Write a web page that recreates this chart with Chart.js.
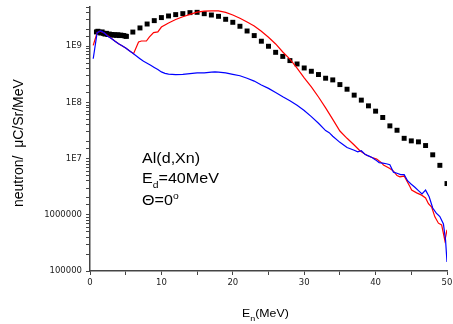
<!DOCTYPE html>
<html><head><meta charset="utf-8">
<script src="https://cdn.jsdelivr.net/npm/chart.js@4/dist/chart.umd.min.js"></script>
<style>html,body{margin:0;padding:0;background:#fff;}#wrap{width:453px;height:324px;position:relative;}</style>
</head><body><div id="wrap"><canvas id="c" width="453" height="324"></canvas></div>
<script>
// Experimental (black squares)
const expX = [0.9,1.1,1.3,1.5,1.7,1.9,2.1,2.3,2.5,2.7,2.9,3.1,3.3,3.5,3.7,3.9,4.1,4.3,4.5,4.7,4.9,5.1,
  6,7,8,9,10,11,12,13,14,15,16,17,18,19,20,21,22,23,24,25,26,27,28,29,30,31,32,33,34,35,36,37,38,39,40,41,42,43,44,45,46,47,48,49,50];
const expY = [1.8e9,1.85e9,1.78e9,1.72e9,1.8e9,1.7e9,1.65e9,1.7e9,1.62e9,1.65e9,1.6e9,1.62e9,1.58e9,1.6e9,1.57e9,1.6e9,1.55e9,1.58e9,1.56e9,1.55e9,1.52e9,1.5e9,
  1.79e9,2.12e9,2.49e9,2.86e9,3.24e9,3.46e9,3.66e9,3.81e9,3.97e9,4.02e9,3.8e9,3.6e9,3.41e9,3.02e9,2.67e9,2.27e9,1.87e9,1.55e9,1.23e9,1.0e9,
  7.8e8,6.6e8,5.56e8,4.84e8,4.11e8,3.59e8,3.14e8,2.7e8,2.52e8,2.08e8,1.72e8,1.35e8,1.1e8,8.7e7,7.0e7,5.4e7,3.83e7,3.2e7,2.3e7,2.07e7,1.99e7,1.71e7,1.17e7,7.6e6,3.6e6];

// Red curve
const redX = [0.45,1.0,1.4,2,3,4,5,6.1,6.8,7.2,7.9,8.3,8.9,9.5,10,11,12,13,14,15,16,17,18,19,20,21,22,23,24,25,26,27,28,29,30,31,32,33,34,35,36,37,37.8,38.75,39.5,40.15,40.85,41.1,42,42.5,43,43.4,44,44.8,45.05,45.75,46.45,47.0,47.4,47.85,48.3,48.8,49.25,49.7,50];
const redY = [1.04e9,1.74e9,1.85e9,1.72e9,1.37e9,1.11e9,9.3e8,7.4e8,1.19e9,1.24e9,1.24e9,1.46e9,1.75e9,1.8e9,2.2e9,2.6e9,3.0e9,3.35e9,3.7e9,4.05e9,4.22e9,4.28e9,4.25e9,4.0e9,3.6e9,3.15e9,2.7e9,2.3e9,1.85e9,1.45e9,1.1e9,7.9e8,5.9e8,4.1e8,2.75e8,1.9e8,1.25e8,8.0e7,5.0e7,3.1e7,2.3e7,1.75e7,1.38e7,1.15e7,1.05e7,9.8e6,8.4e6,7.7e6,6.7e6,6.0e6,5.0e6,4.75e6,4.9e6,3.2e6,2.76e6,2.46e6,2.24e6,2.0e6,1.58e6,1.38e6,9.2e5,7.1e5,6.6e5,3.5e5,5.4e5];

// Blue curve
const blueX = [0.45,1.0,1.5,2,2.5,3,3.5,4,4.5,5,5.5,6,6.5,7,7.5,8,8.5,9,9.5,10,10.5,11,12,13,14,15,16,17,17.5,18,19,20,21,22,23,24,25,26,27,28,29,30,31,32,33,33.5,34,35,36,37,37.5,38,38.5,39,39.5,40,40.5,41,41.5,42,42.5,43,43.5,44,44.5,45,45.5,46,46.5,47,47.5,48,48.5,49,49.5,49.8,50];
const blueY = [6.0e8,1.74e9,1.87e9,1.72e9,1.51e9,1.37e9,1.23e9,1.11e9,1.02e9,9.3e8,8.3e8,7.5e8,6.7e8,6.0e8,5.4e8,5.0e8,4.6e8,4.2e8,3.85e8,3.5e8,3.3e8,3.2e8,3.14e8,3.16e8,3.27e8,3.35e8,3.37e8,3.47e8,3.5e8,3.47e8,3.35e8,3.16e8,2.99e8,2.69e8,2.4e8,2.04e8,1.78e8,1.5e8,1.26e8,1.07e8,8.9e7,7.2e7,5.6e7,4.27e7,3.16e7,2.9e7,2.5e7,1.95e7,1.58e7,1.41e7,1.32e7,1.38e7,1.2e7,1.12e7,1.05e7,9.5e6,8.5e6,8.3e6,8.1e6,7.8e6,5.75e6,5.5e6,5.2e6,5.2e6,4.0e6,3.5e6,3.1e6,2.7e6,2.35e6,2.75e6,2.1e6,1.32e6,1.07e6,9.3e5,6.9e5,3.5e5,1.45e5];

const xTickValues = [0,10,20,30,40,50];
const xTickLabels = ['0','10','20','30','40','50'];
const yTickValues = [1e5,1e6,1e7,1e8,1e9];
const yTickLabels = ['100000','1000000','1E7','1E8','1E9'];
const yTitle = 'neutron/  \u03bcC/Sr/MeV';
const xTitleRuns = [['E',0],['n',1],['(MeV)',0]];
const noteLines = [
  [['Al(d,Xn)',0]],
  [['E',0],['d',1],['=40MeV',0]],
  [['\u0398=0',0],['o',2]]
];

const pts = (xs, ys) => xs.map((x, i) => ({x: x, y: ys[i]}));

const textPlugin = {
  id: 'texts',
  afterDraw(chart) {
    const ctx = chart.ctx;
    const fam = '"Liberation Sans", Arial, sans-serif';
    function runs(list, x, y, size, small, hs) {
      ctx.save();
      ctx.translate(x, y);
      ctx.scale(hs, 1);
      ctx.fillStyle = '#000';
      ctx.textBaseline = 'alphabetic';
      ctx.textAlign = 'left';
      let cx = 0;
      for (const [t, kind] of list) {
        const s = kind === 0 ? size : small;
        const dy = kind === 1 ? size * 0.38 : (kind === 2 ? -size * 0.45 : 0);
        ctx.font = s + 'px ' + fam;
        ctx.fillText(t, cx, dy);
        cx += ctx.measureText(t).width;
      }
      ctx.restore();
    }
    noteLines.forEach((ln, i) => runs(ln, 142, [163, 183, 205][i], 14, 9, 1.15));
    runs(xTitleRuns, 242, 317, 11, 8, 1.12);
    ctx.save();
    ctx.translate(23, 207);
    ctx.rotate(-Math.PI / 2);
    ctx.font = '14px ' + fam;
    ctx.fillStyle = '#000';
    ctx.textBaseline = 'alphabetic';
    ctx.fillText(yTitle, 0, 0);
    ctx.restore();
  }
};

new Chart(document.getElementById('c'), {
  type: 'line',
  data: {
    datasets: [
      {data: pts(blueX, blueY), borderColor: '#0000ff', borderWidth: 1.2, pointRadius: 0, tension: 0, fill: false},
      {data: pts(redX, redY), borderColor: '#ff0000', borderWidth: 1.2, pointRadius: 0, tension: 0, fill: false},
      {data: pts(expX, expY), showLine: false, pointStyle: 'rect', pointRadius: 3.5, pointBorderWidth: 0, pointBackgroundColor: '#000', borderColor: '#000'}
    ]
  },
  options: {
    responsive: false,
    animation: false,
    devicePixelRatio: 1,
    layout: {padding: {top: 7, right: 6, left: 0, bottom: 0}},
    plugins: {legend: {display: false}, tooltip: {enabled: false}},
    scales: {
      x: {
        type: 'linear', min: 0, max: 50,
        border: {display: true, color: '#444', width: 1.5},
        grid: {drawOnChartArea: false, drawTicks: true, tickLength: 4, tickColor: '#444', tickWidth: 1},
        ticks: {stepSize: 5, autoSkip: false, maxRotation: 0, padding: 3, color: '#222',
          font: {family: 'DejaVu Sans', size: 8.5},
          callback: (v) => { const i = xTickValues.indexOf(v); return i >= 0 ? xTickLabels[i] : ''; }},
        afterFit: (s) => { s.height = 53; s.paddingLeft = 0; s.paddingRight = 0; }
      },
      y: {
        type: 'logarithmic', min: 1e5, max: 5e9,
        border: {display: true, color: '#444', width: 1.5},
        grid: {drawOnChartArea: false, drawTicks: true, tickLength: 4, tickColor: '#444', tickWidth: 1},
        ticks: {autoSkip: false, padding: 4, color: '#222',
          font: {family: 'DejaVu Sans', size: 8.5},
          callback: (v) => { const i = yTickValues.findIndex(t => Math.abs(t - v) / t < 1e-6); return i >= 0 ? yTickLabels[i] : ''; }},
        afterFit: (s) => { s.width = 90; s.paddingTop = 0; s.paddingBottom = 0; }
      }
    }
  },
  plugins: [textPlugin]
});
</script>
</body></html>
